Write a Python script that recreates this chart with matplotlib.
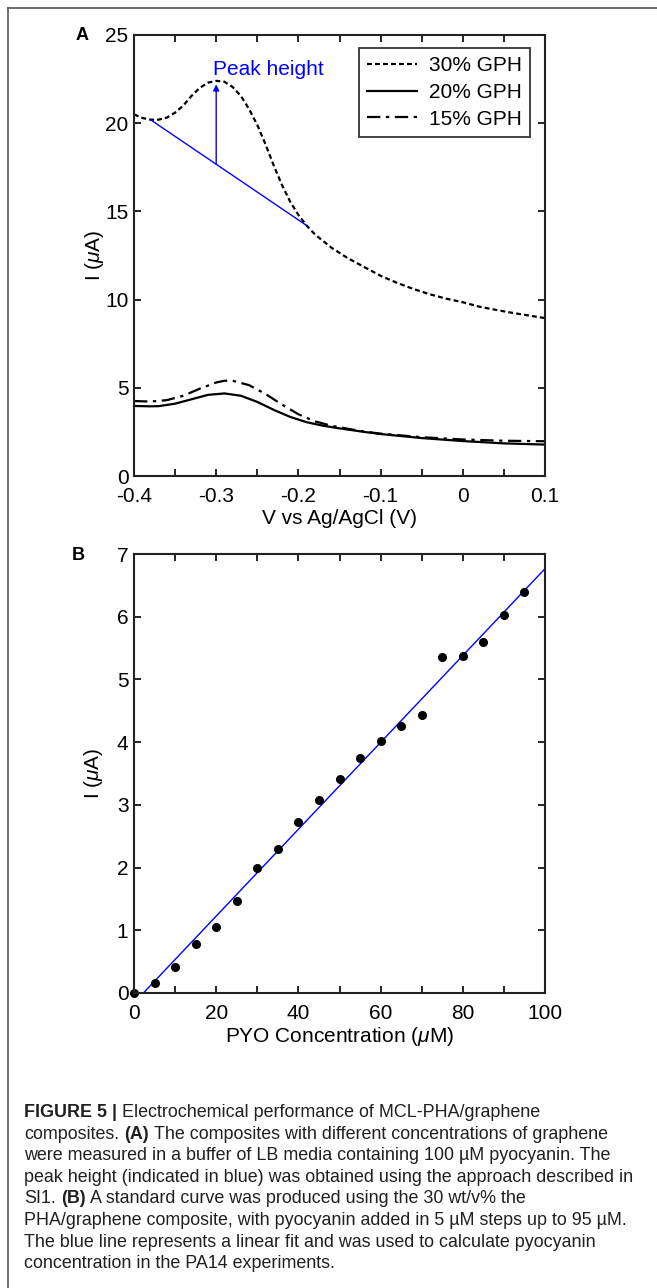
import matplotlib
matplotlib.use('Agg')
import matplotlib.pyplot as plt
from matplotlib.lines import Line2D
import numpy as np

plt.rcParams['font.family'] = ['Liberation Sans', 'DejaVu Sans']
plt.rcParams['mathtext.fontset'] = 'custom'
plt.rcParams['mathtext.rm'] = 'Liberation Sans'
plt.rcParams['mathtext.it'] = 'Liberation Sans:italic'

# panel A - square wave voltammograms
volt_30 = [-0.40, -0.39, -0.38, -0.37, -0.36, -0.35, -0.34, -0.33, -0.32, -0.31, -0.30,
           -0.29, -0.28, -0.27, -0.26, -0.25, -0.24, -0.23, -0.22, -0.21, -0.20, -0.19,
           -0.18, -0.16, -0.14, -0.12, -0.10, -0.08, -0.06, -0.04, -0.02, 0.00, 0.02,
           0.04, 0.06, 0.08, 0.10]
cur_30 = [20.50, 20.30, 20.20, 20.20, 20.32, 20.60, 21.00, 21.55, 22.00, 22.30, 22.40,
          22.35, 22.05, 21.55, 20.80, 19.90, 18.80, 17.60, 16.50, 15.55, 14.80, 14.20,
          13.70, 12.95, 12.35, 11.85, 11.35, 10.95, 10.60, 10.30, 10.05, 9.85, 9.60,
          9.42, 9.25, 9.10, 8.95]

volt_20 = [-0.40, -0.38, -0.37, -0.35, -0.33, -0.31, -0.29, -0.27, -0.25, -0.23, -0.21,
           -0.19, -0.17, -0.15, -0.12, -0.10, -0.05, 0.00, 0.05, 0.10]
cur_20 = [3.97, 3.95, 3.96, 4.10, 4.35, 4.60, 4.68, 4.55, 4.20, 3.75, 3.35,
          3.05, 2.85, 2.70, 2.50, 2.38, 2.15, 1.98, 1.85, 1.78]

volt_15 = [-0.40, -0.38, -0.36, -0.34, -0.32, -0.30, -0.29, -0.28, -0.26, -0.24, -0.22,
           -0.20, -0.18, -0.16, -0.14, -0.12, -0.10, -0.05, 0.00, 0.05, 0.10]
cur_15 = [4.25, 4.22, 4.30, 4.55, 4.95, 5.30, 5.40, 5.40, 5.15, 4.65, 4.05,
          3.50, 3.10, 2.85, 2.68, 2.52, 2.40, 2.20, 2.07, 2.00, 1.97]

# baseline for the peak height: from the minimum before the peak to the tangent point
base_left_v = -0.38
base_right_v = -0.19

# panel B - standard curve
pyo_conc = [0, 5, 10, 15, 20, 25, 30, 35, 40, 45, 50, 55, 60, 65, 70, 75, 80, 85, 90, 95]
pyo_cur = [0.0, 0.155, 0.42, 0.78, 1.06, 1.47, 2.0, 2.29, 2.73, 3.08, 3.42, 3.75,
           4.02, 4.25, 4.43, 5.35, 5.38, 5.59, 6.03, 6.40]

W, H = 657, 1288
fig = plt.figure(figsize=(W / 100, H / 100), dpi=100)
FS = 15


def style_axes(ax):
    ax.tick_params(direction='in', top=True, right=True, length=5, width=1.2,
                   labelsize=FS, colors='black')
    ax.tick_params(axis='x', pad=8)
    ax.tick_params(axis='y', pad=4)
    for sp in ax.spines.values():
        sp.set_linewidth(1.5)
        sp.set_color('#222222')


# ---- panel A
axA = fig.add_axes([134 / W, 1 - 476 / H, 411 / W, 441 / H])
axA.plot(volt_30, cur_30, color='black', lw=1.6, ls=(0, (2.2, 1.4)), label='30% GPH')
axA.plot(volt_20, cur_20, color='black', lw=1.6, ls='-', label='20% GPH')
axA.plot(volt_15, cur_15, color='black', lw=1.6, ls=(0, (6, 2.5, 1.5, 2.5)), label='15% GPH')

ipk = int(np.argmax(cur_30))
v_pk, i_pk = volt_30[ipk], cur_30[ipk]
bl = np.interp(base_left_v, volt_30, cur_30)
br = np.interp(base_right_v, volt_30, cur_30)
base_at_pk = bl + (br - bl) * (v_pk - base_left_v) / (base_right_v - base_left_v)
axA.plot([base_left_v, base_right_v], [bl, br], color='#0000ff', lw=1)
axA.annotate('', xy=(v_pk, i_pk - 0.2), xytext=(v_pk, base_at_pk),
             arrowprops=dict(arrowstyle='-|>', color='#0000ff', lw=1,
                             mutation_scale=9, shrinkA=0, shrinkB=0))
axA.text(v_pk - 0.004, i_pk + 0.65, 'Peak height', color='#0000ff', fontsize=FS,
         ha='left', va='center')

axA.set_xlim(-0.4, 0.1)
axA.set_ylim(0, 25)
xt = np.linspace(-0.4, 0.1, 11)
axA.set_xticks(xt)
axA.set_xticklabels(['-0.4', '', '-0.3', '', '-0.2', '', '-0.1', '', '0', '', '0.1'])
axA.set_yticks([0, 5, 10, 15, 20, 25])
axA.set_xlabel('V vs Ag/AgCl (V)', fontsize=FS, labelpad=2)
axA.set_ylabel(r'I ($\mu$A)', fontsize=FS, labelpad=-1)
style_axes(axA)
leg = axA.legend(loc='upper right', bbox_to_anchor=((530 - 134) / 411, (476 - 48) / 441),
                 borderaxespad=0, fontsize=FS, frameon=True, fancybox=False,
                 handlelength=2.4, handletextpad=0.6, labelspacing=0.38,
                 borderpad=0.38)
leg.get_frame().set_edgecolor('black')
leg.get_frame().set_linewidth(1.3)
fig.text(82 / W, 1 - 35 / H, 'A', fontsize=13, fontweight='bold', ha='center', va='center')

# ---- panel B
axB = fig.add_axes([134 / W, 1 - 993 / H, 411 / W, 439 / H])
slope, icpt = np.polyfit(pyo_conc, pyo_cur, 1)
xfit = np.array([0, 100])
axB.plot(xfit, slope * xfit + icpt, color='#0000ff', lw=1)
axB.plot(pyo_conc, pyo_cur, 'o', color='black', ms=5.5, clip_on=False)
axB.set_xlim(0, 100)
axB.set_ylim(0, 7)
axB.set_xticks(np.arange(0, 101, 10))
axB.set_xticklabels(['0', '', '20', '', '40', '', '60', '', '80', '', '100'])
axB.set_yticks(range(8))
axB.set_xlabel(r'PYO Concentration ($\mu$M)', fontsize=FS, labelpad=1)
axB.set_ylabel(r'I ($\mu$A)', fontsize=FS, labelpad=8.5)
style_axes(axB)
fig.text(78 / W, 1 - 555 / H, 'B', fontsize=13, fontweight='bold', ha='center', va='center')

# ---- border lines (top and left)
fig.add_artist(Line2D([8 / W, 1], [1 - 8 / H, 1 - 8 / H], color='#555555', lw=1.2))
fig.add_artist(Line2D([8 / W, 8 / W], [0, 1 - 8 / H], color='#555555', lw=1.2))

# ---- caption
caption = [
    [('FIGURE 5 |', True), ('Electrochemical performance of MCL-PHA/graphene', False)],
    [('composites.', False), ('(A)', True), ('The composites with different concentrations of graphene', False)],
    [('were measured in a buffer of LB media containing 100 \u00b5M pyocyanin. The', False)],
    [('peak height (indicated in blue) was obtained using the approach described in', False)],
    [('SI1.', False), ('(B)', True), ('A standard curve was produced using the 30 wt/v% the', False)],
    [('PHA/graphene composite, with pyocyanin added in 5 \u00b5M steps up to 95 \u00b5M.', False)],
    [('The blue line represents a linear fit and was used to calculate pyocyanin', False)],
    [('concentration in the PA14 experiments.', False)],
]
cap_fs = 12.9
cap_font = ['Liberation Sans Narrow', 'Liberation Sans']
cap_col = '#231f20'
fig.canvas.draw()
rend = fig.canvas.get_renderer()


def text_w(s, bold):
    t = fig.text(0, 0, s, fontsize=cap_fs, family=cap_font,
                 fontweight='bold' if bold else 'normal')
    w = t.get_window_extent(renderer=rend).width
    t.remove()
    return w


space_w = text_w('a a', False) - text_w('aa', False)
y0, dy = 1117, 21.6
for k, parts in enumerate(caption):
    x = 24
    y = y0 + k * dy
    for s, bold in parts:
        t = fig.text(x / W, 1 - y / H, s, fontsize=cap_fs, family=cap_font, color=cap_col,
                     fontweight='bold' if bold else 'normal', ha='left', va='baseline')
        x += t.get_window_extent(renderer=rend).width + space_w

fig.savefig('out.png', dpi=100)
